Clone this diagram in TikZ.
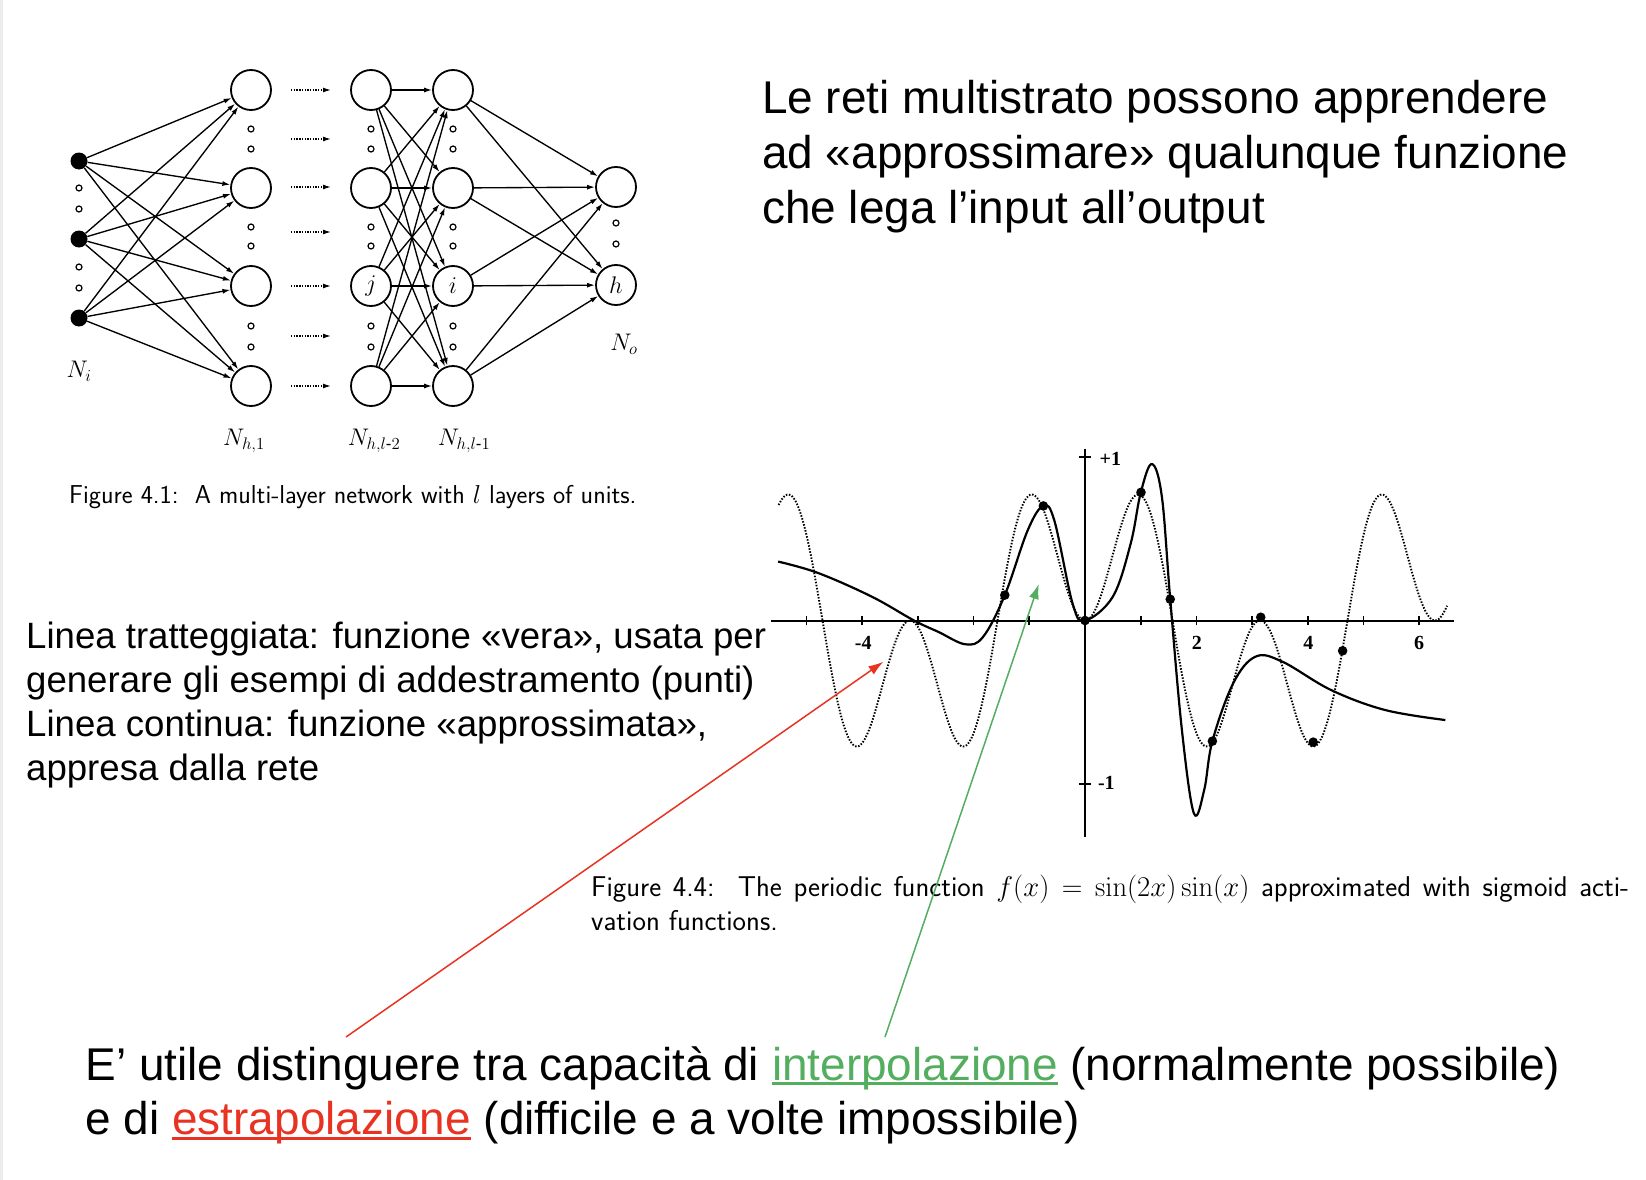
\RequirePackage{fix-cm}
\documentclass[tikz,border=0pt]{standalone}
\usepackage[no-math]{fontspec}
\usepackage{amsmath}
\setmainfont{Liberation Sans}[Ligatures=NoCommon]
\newfontfamily\tnr{Liberation Serif}
\usetikzlibrary{arrows.meta}

\definecolor{igreen}{RGB}{84,174,96}
\definecolor{ered}{RGB}{232,51,35}
\definecolor{edgegray}{RGB}{236,236,236}

% underline at a fixed depth, in the current colour
\newcommand\ulword[1]{\setbox0=\hbox{#1}\rlap{\rule[-5pt]{\wd0}{2.6pt}}\box0}

\begin{document}
\begin{tikzpicture}[x=1pt,y=-1pt,
  unit/.style={circle, draw, line width=1.8pt, minimum size=40pt, inner sep=0pt,
               font=\fontsize{24}{24}\selectfont},
  inunit/.style={circle, fill=black, minimum size=17pt, inner sep=0pt},
  gapdot/.style={circle, draw, line width=1.2pt, minimum size=6pt, inner sep=0pt},
  link/.style={line width=1.35pt, -{Latex[length=8pt,width=5pt]}},
  flow/.style={line width=1.3pt, dash pattern=on 1.4pt off 1.3pt, -{Latex[length=8pt,width=5pt]}},
  layerlabel/.style={inner sep=0pt, font=\fontsize{24}{24}\selectfont},
  headline/.style={anchor=base west, inner sep=0pt, font=\fontsize{45.9}{54.6}\selectfont},
  noteline/.style={anchor=base west, inner sep=0pt, font=\fontsize{36.6}{44}\selectfont},
  capline/.style={anchor=base west, inner sep=0pt, font=\sffamily\fontsize{25.9}{30}\selectfont},
  capbig/.style={anchor=base west, inner sep=0pt, font=\sffamily\fontsize{28.6}{32}\selectfont},
  ticklabel/.style={inner sep=0pt, font=\tnr\bfseries\fontsize{20}{20}\selectfont},
  axisline/.style={line width=2pt},
  truefn/.style={line width=1.9pt, dash pattern=on 1.5pt off 1.6pt},
  approxfn/.style={line width=2.2pt, line join=round},
  pointer/.style={line width=1.5pt, -{Latex[length=15pt,width=10pt]}}
]
\useasboundingbox (0,0) rectangle (1646,1180);
\fill[white] (0,0) rectangle (1646,1180);
\fill[edgegray] (0,0) rectangle (2.5,1180);

% ---------------- multi-layer network ----------------
\node[inunit] (i1) at (79,161) {};
\node[inunit] (i2) at (79,239) {};
\node[inunit] (i3) at (79,318) {};

\node[unit] (a1) at (251,90) {};
\node[unit] (a2) at (251,188) {};
\node[unit] (a3) at (251,286) {};
\node[unit] (a4) at (251,386) {};

\node[unit] (b1) at (371,90) {};
\node[unit] (b2) at (371,188) {};
\node[unit] (b3) at (371,286) {$j$};
\node[unit] (b4) at (371,386) {};

\node[unit] (c1) at (453,90) {};
\node[unit] (c2) at (453,188) {};
\node[unit] (c3) at (453,286) {$i$};
\node[unit] (c4) at (453,386) {};

\node[unit] (o1) at (616,187) {};
\node[unit] (o2) at (616,285) {$h$};

% omitted units
\foreach \y [count=\n] in {188,209,267,288}
  \node[gapdot] (gi\n) at (79,\y) {};
\foreach \col/\x in {a/251,b/371,c/453}
  \foreach \y [count=\n] in {129,149,227,246,326,347}
    \node[gapdot] (g\col\n) at (\x,\y) {};
\node[gapdot] (go1) at (616,223) {};
\node[gapdot] (go2) at (616,244) {};

% connections
\foreach \s in {i1,i2,i3}
  \foreach \t in {a1,a2,a3,a4}
    \draw[link] (\s) -- (\t);
\foreach \s in {b1,b2,b3,b4}
  \foreach \t in {c1,c2,c3,c4}
    \draw[link] (\s) -- (\t);
\foreach \s in {c1,c2,c3,c4}
  \foreach \t in {o1,o2}
    \draw[link] (\s) -- (\t);

% intermediate layers
\foreach \y [count=\n] in {90,139,187,232,286,336,386} {
  \coordinate (fs\n) at (291,\y);
  \coordinate (fe\n) at (331,\y);
  \draw[flow] (fs\n) -- (fe\n);
}

\node[layerlabel] (Ni)   at (79,371)  {$N_i$};
\node[layerlabel] (Nh1)  at (244,441) {$N_{h,1}$};
\node[layerlabel] (Nhl2) at (374,441) {$N_{h,l\text{-}2}$};
\node[layerlabel] (Nhl1) at (464,441) {$N_{h,l\text{-}1}$};
\node[layerlabel] (No)   at (624,344) {$N_o$};

\node[capline] (cap1) at (69,503) {Figure 4.1:\ \ A multi-layer network with $l$ layers of units.};

% ---------------- headline ----------------
\node[headline] (h1) at (762,114)   {Le reti multistrato possono apprendere};
\node[headline] (h2) at (762,168.6) {ad «approssimare» qualunque funzione};
\node[headline] (h3) at (762,223.2) {che lega l’input all’output};

% ---------------- notes ----------------
\node[noteline] (n1) at (26,648) {Linea tratteggiata: funzione «vera», usata per};
\node[noteline] (n2) at (26,692) {generare gli esempi di addestramento (punti)};
\node[noteline] (n3) at (26,736) {Linea continua: funzione «approssimata»,};
\node[noteline] (n4) at (26,780) {appresa dalla rete};

% ---------------- function plot ----------------
\begin{scope}[shift={(1085,620.5)}, x=55.7pt, y=163.7pt]
  \draw[axisline] (-5.64,0) -- (6.62,0);
  \draw[axisline] (0,1.05) -- (0,-1.32);
  \foreach \k in {-5,-4,-3,-2,-1,1,2,3,4,5,6}
    \draw[line width=1.7pt] (\k,-0.03) -- (\k,0.03);
  \draw[line width=1.7pt] (-0.1,1) -- (0.1,1);
  \draw[line width=1.7pt] (-0.1,-1) -- (0.1,-1);

  \node[ticklabel] (tm4) at (-3.98,-0.135) {-4};
  \node[ticklabel] (t2)  at (2.01,-0.135)  {2};
  \node[ticklabel] (t4)  at (4.01,-0.135)  {4};
  \node[ticklabel] (t6)  at (6.0,-0.135)   {6};
  \node[ticklabel, anchor=west] (tp1) at (0.26,0.99)  {+1};
  \node[ticklabel, anchor=west] (tn1) at (0.23,-0.99) {-1};

  % f(x) = sin(2x) sin(x)
  \draw[truefn] plot[domain=-5.5:6.5, samples=400]
    (\x,{sin(deg(2*\x))*sin(deg(\x))});

  % network output
  \draw[approxfn] plot[smooth, tension=0.6] coordinates {
    (-5.51,0.36) (-4.79,0.29) (-3.83,0.146) (-3.07,0.0) (-2.63,-0.07)
    (-2.15,-0.145) (-1.83,-0.10) (-1.44,0.155) (-1.03,0.55) (-0.75,0.70)
    (-0.55,0.61) (-0.22,0.10) (0,0) (0.5,0.146) (0.82,0.47) (1.0,0.78)
    (1.2,0.956) (1.38,0.756) (1.53,0.13) (1.74,-0.67) (1.955,-1.178)
    (2.14,-1.035) (2.287,-0.737) (2.66,-0.384) (3.06,-0.221) (3.54,-0.251)
    (4.42,-0.425) (5.39,-0.547) (6.47,-0.608)};

  % training examples
  \foreach \px/\py in {-1.44/0.155, -0.747/0.70, 0/0, 1.005/0.783, 1.53/0.13,
                       2.287/-0.737, 3.155/0.02, 4.097/-0.743, 4.625/-0.185}
    \fill (\px,\py) circle[radius=4.8pt];

  \coordinate (redtip) at (-3.62,-0.252);
  \coordinate (greentip) at (-0.83,0.223);
\end{scope}

\node[capbig] (cap2a) at (591,896)
  {\makebox[1038pt][s]{Figure 4.4:\ \ The periodic function $f(x)=\sin(2x)\sin(x)$ approximated with sigmoid acti-}};
\node[capbig] (cap2b) at (591,930) {vation functions.};

% ---------------- conclusion ----------------
\node[headline] (b1l) at (85.5,1080)
  {E’ utile distinguere tra capacità di \textcolor{igreen}{\ulword{interpolazione}} (normalmente possibile)};
\node[headline] (b2l) at (85.5,1134.6)
  {e di \textcolor{ered}{\ulword{estrapolazione}} (difficile e a volte impossibile)};

\coordinate (redtail) at (346,1037);
\coordinate (greentail) at (885,1037);
\draw[pointer, ered] (redtail) -- (redtip);
\draw[pointer, igreen] (greentail) -- (greentip);
\end{tikzpicture}
\end{document}
